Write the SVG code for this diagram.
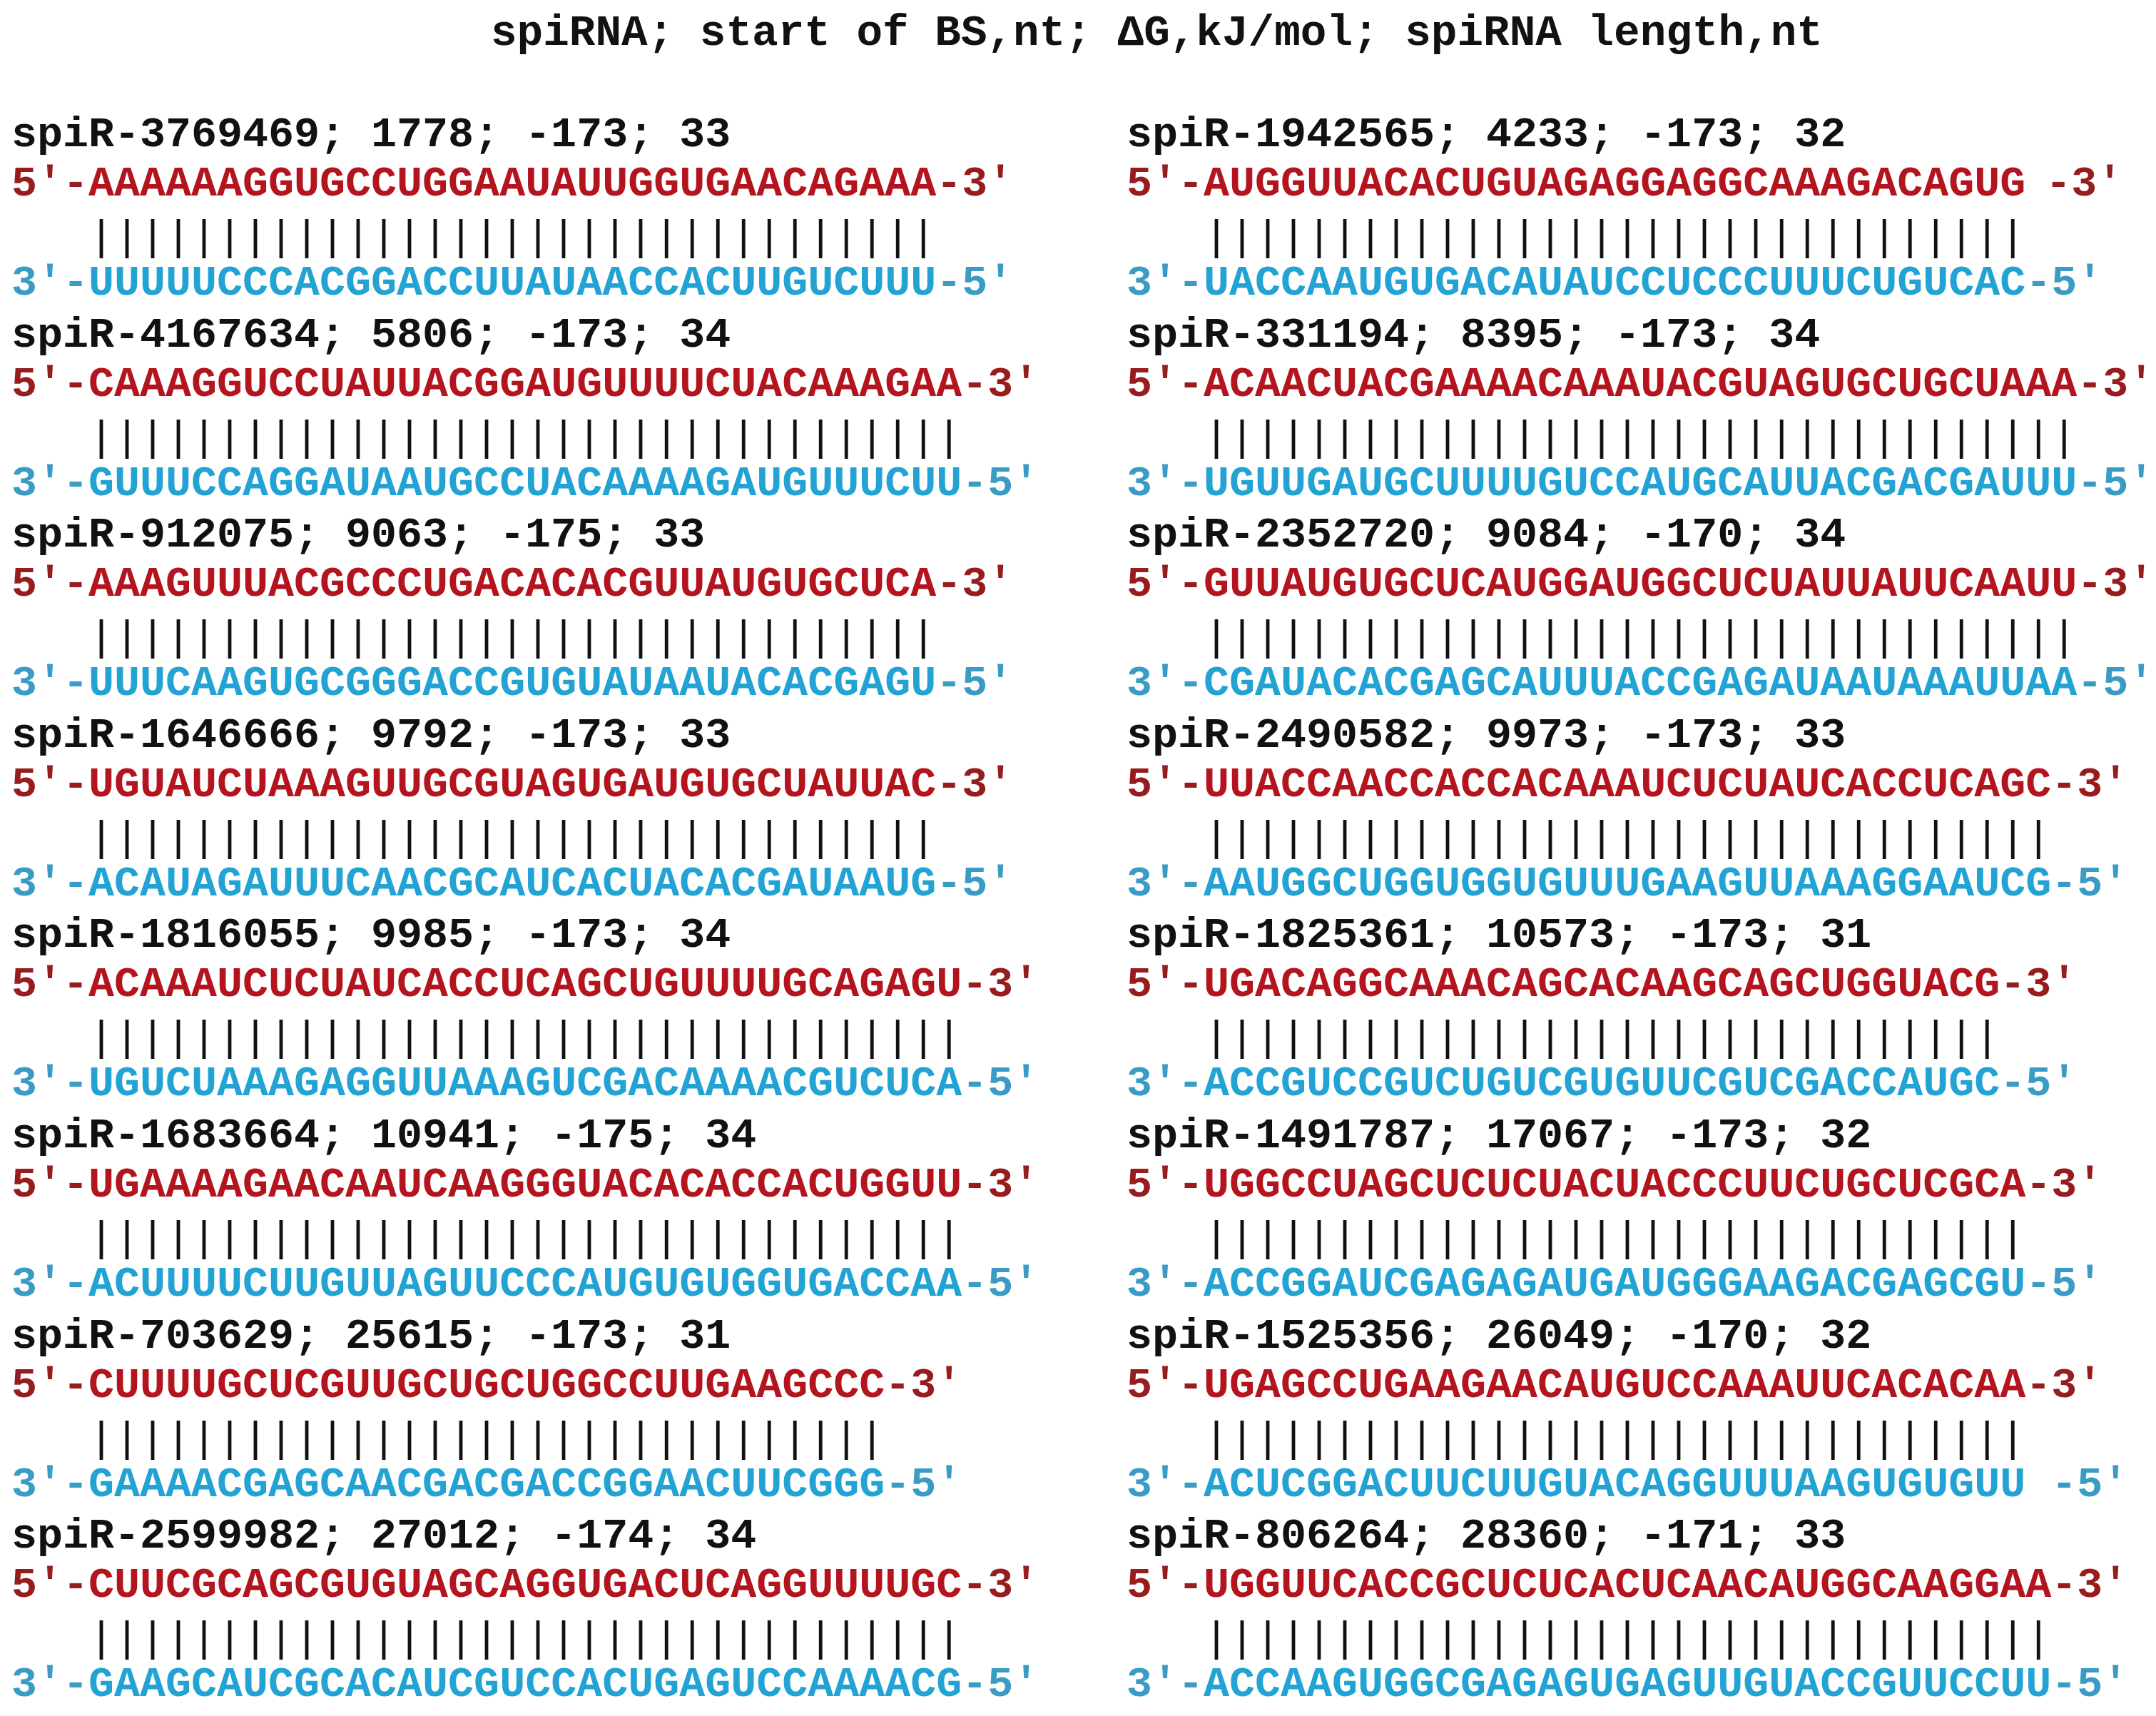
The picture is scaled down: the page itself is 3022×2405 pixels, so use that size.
<svg xmlns="http://www.w3.org/2000/svg" width="3022" height="2405" viewBox="0 0 3022 2405">
<style>
text{font-family:"Liberation Mono","Courier New",monospace;font-size:60px;font-weight:bold;white-space:pre}
.t{fill:#111;font-size:61px}
.h{fill:#111}
.r{fill:#b3141d}
.re{fill:#961c1e}
.b{fill:#22a3d4}
.be{fill:#3a9cc4}
.p{fill:#111;font-weight:normal}
</style>
<rect width="3022" height="2405" fill="#fff"/>
<text id="title" class="t" x="688" y="63">spiRNA; start of BS,nt; ΔG,kJ/mol; spiRNA length,nt</text>
<g id="connectors"></g>

<g id="spiR-3769469" transform="translate(16,205)">
<text class="h" x="0" y="0">spiR-3769469; 1778; -173; 33</text>
<text class="r" x="0" y="69"><tspan class="re">5'-</tspan>AAAAAAGGUGCCUGGAAUAUUGGUGAACAGAAA<tspan class="re">-3'</tspan></text>
<text class="p" x="108" y="145">|||||||||||||||||||||||||||||||||</text>
<text class="b" x="0" y="208"><tspan class="be">3'-</tspan>UUUUUCCCACGGACCUUAUAACCACUUGUCUUU<tspan class="be">-5'</tspan></text>
</g>
<g id="spiR-4167634" transform="translate(16,486)">
<text class="h" x="0" y="0">spiR-4167634; 5806; -173; 34</text>
<text class="r" x="0" y="69"><tspan class="re">5'-</tspan>CAAAGGUCCUAUUACGGAUGUUUUCUACAAAGAA<tspan class="re">-3'</tspan></text>
<text class="p" x="108" y="145">||||||||||||||||||||||||||||||||||</text>
<text class="b" x="0" y="208"><tspan class="be">3'-</tspan>GUUUCCAGGAUAAUGCCUACAAAAGAUGUUUCUU<tspan class="be">-5'</tspan></text>
</g>
<g id="spiR-912075" transform="translate(16,766)">
<text class="h" x="0" y="0">spiR-912075; 9063; -175; 33</text>
<text class="r" x="0" y="69"><tspan class="re">5'-</tspan>AAAGUUUACGCCCUGACACACGUUAUGUGCUCA<tspan class="re">-3'</tspan></text>
<text class="p" x="108" y="145">|||||||||||||||||||||||||||||||||</text>
<text class="b" x="0" y="208"><tspan class="be">3'-</tspan>UUUCAAGUGCGGGACCGUGUAUAAUACACGAGU<tspan class="be">-5'</tspan></text>
</g>
<g id="spiR-1646666" transform="translate(16,1047)">
<text class="h" x="0" y="0">spiR-1646666; 9792; -173; 33</text>
<text class="r" x="0" y="69"><tspan class="re">5'-</tspan>UGUAUCUAAAGUUGCGUAGUGAUGUGCUAUUAC<tspan class="re">-3'</tspan></text>
<text class="p" x="108" y="145">|||||||||||||||||||||||||||||||||</text>
<text class="b" x="0" y="208"><tspan class="be">3'-</tspan>ACAUAGAUUUCAACGCAUCACUACACGAUAAUG<tspan class="be">-5'</tspan></text>
</g>
<g id="spiR-1816055" transform="translate(16,1327)">
<text class="h" x="0" y="0">spiR-1816055; 9985; -173; 34</text>
<text class="r" x="0" y="69"><tspan class="re">5'-</tspan>ACAAAUCUCUAUCACCUCAGCUGUUUUGCAGAGU<tspan class="re">-3'</tspan></text>
<text class="p" x="108" y="145">||||||||||||||||||||||||||||||||||</text>
<text class="b" x="0" y="208"><tspan class="be">3'-</tspan>UGUCUAAAGAGGUUAAAGUCGACAAAACGUCUCA<tspan class="be">-5'</tspan></text>
</g>
<g id="spiR-1683664" transform="translate(16,1608)">
<text class="h" x="0" y="0">spiR-1683664; 10941; -175; 34</text>
<text class="r" x="0" y="69"><tspan class="re">5'-</tspan>UGAAAAGAACAAUCAAGGGUACACACCACUGGUU<tspan class="re">-3'</tspan></text>
<text class="p" x="108" y="145">||||||||||||||||||||||||||||||||||</text>
<text class="b" x="0" y="208"><tspan class="be">3'-</tspan>ACUUUUCUUGUUAGUUCCCAUGUGUGGUGACCAA<tspan class="be">-5'</tspan></text>
</g>
<g id="spiR-703629" transform="translate(16,1889)">
<text class="h" x="0" y="0">spiR-703629; 25615; -173; 31</text>
<text class="r" x="0" y="69"><tspan class="re">5'-</tspan>CUUUUGCUCGUUGCUGCUGGCCUUGAAGCCC<tspan class="re">-3'</tspan></text>
<text class="p" x="108" y="145">|||||||||||||||||||||||||||||||</text>
<text class="b" x="0" y="208"><tspan class="be">3'-</tspan>GAAAACGAGCAACGACGACCGGAACUUCGGG<tspan class="be">-5'</tspan></text>
</g>
<g id="spiR-2599982" transform="translate(16,2169)">
<text class="h" x="0" y="0">spiR-2599982; 27012; -174; 34</text>
<text class="r" x="0" y="69"><tspan class="re">5'-</tspan>CUUCGCAGCGUGUAGCAGGUGACUCAGGUUUUGC<tspan class="re">-3'</tspan></text>
<text class="p" x="108" y="145">||||||||||||||||||||||||||||||||||</text>
<text class="b" x="0" y="208"><tspan class="be">3'-</tspan>GAAGCAUCGCACAUCGUCCACUGAGUCCAAAACG<tspan class="be">-5'</tspan></text>
</g>

<g id="spiR-1942565" transform="translate(1579,205)">
<text class="h" x="0" y="0">spiR-1942565; 4233; -173; 32</text>
<text class="r" x="0" y="69"><tspan class="re">5'-</tspan>AUGGUUACACUGUAGAGGAGGCAAAGACAGUG<tspan class="re" dx="-8"> -3'</tspan></text>
<text class="p" x="108" y="145">||||||||||||||||||||||||||||||||</text>
<text class="b" x="0" y="208"><tspan class="be">3'-</tspan>UACCAAUGUGACAUAUCCUCCCUUUCUGUCAC<tspan class="be">-5'</tspan></text>
</g>
<g id="spiR-331194" transform="translate(1579,486)">
<text class="h" x="0" y="0">spiR-331194; 8395; -173; 34</text>
<text class="r" x="0" y="69"><tspan class="re">5'-</tspan>ACAACUACGAAAACAAAUACGUAGUGCUGCUAAA<tspan class="re">-3'</tspan></text>
<text class="p" x="108" y="145">||||||||||||||||||||||||||||||||||</text>
<text class="b" x="0" y="208"><tspan class="be">3'-</tspan>UGUUGAUGCUUUUGUCCAUGCAUUACGACGAUUU<tspan class="be">-5'</tspan></text>
</g>
<g id="spiR-2352720" transform="translate(1579,766)">
<text class="h" x="0" y="0">spiR-2352720; 9084; -170; 34</text>
<text class="r" x="0" y="69"><tspan class="re">5'-</tspan>GUUAUGUGCUCAUGGAUGGCUCUAUUAUUCAAUU<tspan class="re">-3'</tspan></text>
<text class="p" x="108" y="145">||||||||||||||||||||||||||||||||||</text>
<text class="b" x="0" y="208"><tspan class="be">3'-</tspan>CGAUACACGAGCAUUUACCGAGAUAAUAAAUUAA<tspan class="be">-5'</tspan></text>
</g>
<g id="spiR-2490582" transform="translate(1579,1047)">
<text class="h" x="0" y="0">spiR-2490582; 9973; -173; 33</text>
<text class="r" x="0" y="69"><tspan class="re">5'-</tspan>UUACCAACCACCACAAAUCUCUAUCACCUCAGC<tspan class="re">-3'</tspan></text>
<text class="p" x="108" y="145">|||||||||||||||||||||||||||||||||</text>
<text class="b" x="0" y="208"><tspan class="be">3'-</tspan>AAUGGCUGGUGGUGUUUGAAGUUAAAGGAAUCG<tspan class="be">-5'</tspan></text>
</g>
<g id="spiR-1825361" transform="translate(1579,1327)">
<text class="h" x="0" y="0">spiR-1825361; 10573; -173; 31</text>
<text class="r" x="0" y="69"><tspan class="re">5'-</tspan>UGACAGGCAAACAGCACAAGCAGCUGGUACG<tspan class="re">-3'</tspan></text>
<text class="p" x="108" y="145">|||||||||||||||||||||||||||||||</text>
<text class="b" x="0" y="208"><tspan class="be">3'-</tspan>ACCGUCCGUCUGUCGUGUUCGUCGACCAUGC<tspan class="be">-5'</tspan></text>
</g>
<g id="spiR-1491787" transform="translate(1579,1608)">
<text class="h" x="0" y="0">spiR-1491787; 17067; -173; 32</text>
<text class="r" x="0" y="69"><tspan class="re">5'-</tspan>UGGCCUAGCUCUCUACUACCCUUCUGCUCGCA<tspan class="re">-3'</tspan></text>
<text class="p" x="108" y="145">||||||||||||||||||||||||||||||||</text>
<text class="b" x="0" y="208"><tspan class="be">3'-</tspan>ACCGGAUCGAGAGAUGAUGGGAAGACGAGCGU<tspan class="be">-5'</tspan></text>
</g>
<g id="spiR-1525356" transform="translate(1579,1889)">
<text class="h" x="0" y="0">spiR-1525356; 26049; -170; 32</text>
<text class="r" x="0" y="69"><tspan class="re">5'-</tspan>UGAGCCUGAAGAACAUGUCCAAAUUCACACAA<tspan class="re">-3'</tspan></text>
<text class="p" x="108" y="145">||||||||||||||||||||||||||||||||</text>
<text class="b" x="0" y="208"><tspan class="be">3'-</tspan>ACUCGGACUUCUUGUACAGGUUUAAGUGUGUU<tspan class="be"> -5'</tspan></text>
</g>
<g id="spiR-806264" transform="translate(1579,2169)">
<text class="h" x="0" y="0">spiR-806264; 28360; -171; 33</text>
<text class="r" x="0" y="69"><tspan class="re">5'-</tspan>UGGUUCACCGCUCUCACUCAACAUGGCAAGGAA<tspan class="re">-3'</tspan></text>
<text class="p" x="108" y="145">|||||||||||||||||||||||||||||||||</text>
<text class="b" x="0" y="208"><tspan class="be">3'-</tspan>ACCAAGUGGCGAGAGUGAGUUGUACCGUUCCUU<tspan class="be">-5'</tspan></text>
</g>
</svg>
